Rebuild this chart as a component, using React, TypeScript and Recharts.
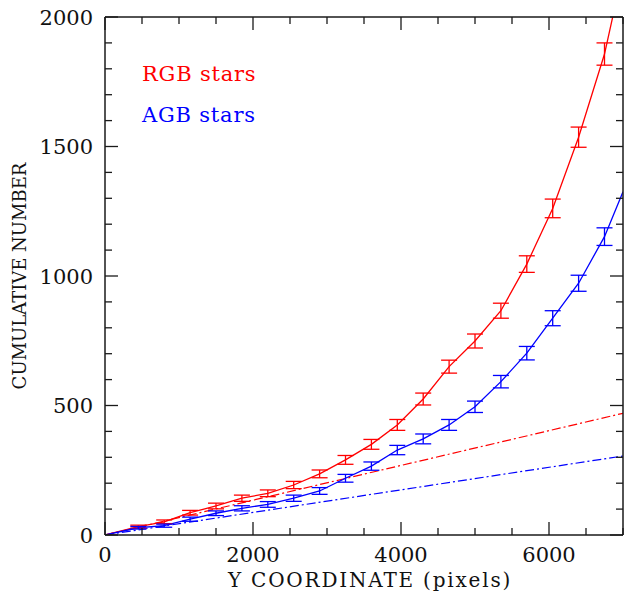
import React from 'react';
import { ComposedChart, Line, Scatter, ErrorBar, XAxis, YAxis, Legend } from 'recharts';

// sample positions along the Y coordinate (pixels)
const xPoints = [450, 800, 1150, 1500, 1850, 2200, 2550, 2900, 3250, 3600, 3950, 4300, 4650, 5000, 5350, 5700, 6050, 6400, 6750];

const rgbCounts = [32, 51, 86, 112, 142, 161, 193, 236, 290, 350, 425, 525, 650, 749, 866, 1046, 1261, 1536, 1857];
const rgbErrors = [6, 7, 9, 11, 12, 13, 14, 15, 17, 19, 21, 23, 25, 27, 29, 32, 36, 39, 43];

const agbCounts = [28, 36, 61, 84, 103, 118, 142, 170, 219, 266, 328, 371, 425, 495, 592, 702, 837, 972, 1152];
const agbErrors = [5, 6, 8, 9, 10, 11, 12, 13, 15, 16, 18, 19, 21, 22, 24, 26, 29, 31, 34];

// curve ends (origin and the right edge of the frame)
const curveStart = { x: 0, y: 0 };
const rgbCurveEnd = { x: 7000, y: 2180 };
const agbCurveEnd = { x: 7000, y: 1325 };

// dash-dot straight lines
const rgbLinear = [{ x: 0, y: 0 }, { x: 7000, y: 470 }];
const agbLinear = [{ x: 0, y: 0 }, { x: 7000, y: 305 }];

const xTicks = [0, 500, 1000, 1500, 2000, 2500, 3000, 3500, 4000, 4500, 5000, 5500, 6000, 6500, 7000];
const yTicks = [0, 100, 200, 300, 400, 500, 600, 700, 800, 900, 1000, 1100, 1200, 1300, 1400, 1500, 1600, 1700, 1800, 1900, 2000];

const rgbPoints = xPoints.map((x, i) => ({ x, y: rgbCounts[i], err: rgbErrors[i] }));
const agbPoints = xPoints.map((x, i) => ({ x, y: agbCounts[i], err: agbErrors[i] }));
const rgbCurve = [curveStart, ...rgbPoints.map(p => ({ x: p.x, y: p.y })), rgbCurveEnd];
const agbCurve = [curveStart, ...agbPoints.map(p => ({ x: p.x, y: p.y })), agbCurveEnd];

const FONT = '"DejaVu Serif", serif';
const AXIS = '#1a1a1a';
const RED = '#ff0000';
const BLUE = '#0000ff';

const BottomTick = (props: any) => {
  const { x, y, payload } = props;
  const major = payload.value % 2000 === 0;
  return (
    <g>
      <line x1={x} y1={y} x2={x} y2={y - (major ? 13 : 7)} stroke={AXIS} strokeWidth={1.3} />
      {major && (
        <text x={x} y={y + 27} textAnchor="middle" fontFamily={FONT} fontSize={21} fill="#111">
          {payload.value}
        </text>
      )}
    </g>
  );
};

const TopTick = (props: any) => {
  const { x, y, payload } = props;
  const major = payload.value % 2000 === 0;
  return <line x1={x} y1={y} x2={x} y2={y + (major ? 13 : 7)} stroke={AXIS} strokeWidth={1.3} />;
};

const LeftTick = (props: any) => {
  const { x, y, payload } = props;
  const major = payload.value % 500 === 0;
  return (
    <g>
      <line x1={x} y1={y} x2={x + (major ? 13 : 7)} y2={y} stroke={AXIS} strokeWidth={1.3} />
      {major && (
        <text x={x - 12} y={y + 7.5} textAnchor="end" fontFamily={FONT} fontSize={21} fill="#111">
          {payload.value}
        </text>
      )}
    </g>
  );
};

const RightTick = (props: any) => {
  const { x, y, payload } = props;
  const major = payload.value % 500 === 0;
  return <line x1={x} y1={y} x2={x - (major ? 13 : 7)} y2={y} stroke={AXIS} strokeWidth={1.3} />;
};

const XTitle = (props: any) => {
  const { viewBox } = props;
  return (
    <text x={viewBox.x + viewBox.width / 2 + 6} y={viewBox.y + 52} textAnchor="middle" fontFamily={FONT} fontSize={20} letterSpacing={1.8} fill="#111">
      Y COORDINATE (pixels)
    </text>
  );
};

const YTitle = (props: any) => {
  const { viewBox } = props;
  const cx = 19;
  const cy = viewBox.y + viewBox.height / 2;
  return (
    <text x={cx} y={cy} transform={`rotate(-90 ${cx} ${cy})`} textAnchor="middle" dominantBaseline="central" fontFamily={FONT} fontSize={18} fill="#111">
      CUMULATIVE NUMBER
    </text>
  );
};

const LegendBox = () => (
  <div style={{ fontFamily: FONT, fontSize: 21, lineHeight: '41px', letterSpacing: '0.8px' }}>
    <div style={{ color: RED }}>RGB stars</div>
    <div style={{ color: BLUE }}>AGB stars</div>
  </div>
);

export default function App() {
  return (
    <div style={{ position: 'absolute', left: 0, top: 0, background: '#fff' }}>
      <ComposedChart width={625} height={596} margin={{ top: 16, right: 1, bottom: 60, left: 104 }}>
        <XAxis
          xAxisId="bottom"
          type="number"
          dataKey="x"
          domain={[0, 7000]}
          ticks={xTicks}
          interval={0}
          allowDataOverflow
          height={1}
          tickSize={0}
          tickMargin={0}
          tick={<BottomTick />}
          stroke={AXIS}
          strokeWidth={1.5}
          label={<XTitle />}
        />
        <XAxis
          xAxisId="top"
          orientation="top"
          type="number"
          dataKey="x"
          domain={[0, 7000]}
          ticks={xTicks}
          interval={0}
          allowDataOverflow
          height={1}
          tickSize={0}
          tickMargin={0}
          tick={<TopTick />}
          stroke={AXIS}
          strokeWidth={1.5}
        />
        <YAxis
          yAxisId="left"
          type="number"
          domain={[0, 2000]}
          ticks={yTicks}
          interval={0}
          allowDataOverflow
          width={1}
          tickSize={0}
          tickMargin={0}
          tick={<LeftTick />}
          stroke={AXIS}
          strokeWidth={1.5}
          label={<YTitle />}
        />
        <YAxis
          yAxisId="right"
          orientation="right"
          type="number"
          domain={[0, 2000]}
          ticks={yTicks}
          interval={0}
          allowDataOverflow
          width={1}
          tickSize={0}
          tickMargin={0}
          tick={<RightTick />}
          stroke={AXIS}
          strokeWidth={1.5}
        />
        <Legend
          layout="vertical"
          align="center"
          verticalAlign="middle"
          wrapperStyle={{ left: 142, top: 54, width: 'auto' }}
          content={<LegendBox />}
        />
        <Line xAxisId="bottom" yAxisId="left" data={rgbLinear} dataKey="y" type="linear" stroke={RED} strokeWidth={1.2} strokeDasharray="9 3 2 3" dot={false} isAnimationActive={false} legendType="none" />
        <Line xAxisId="bottom" yAxisId="left" data={agbLinear} dataKey="y" type="linear" stroke={BLUE} strokeWidth={1.2} strokeDasharray="9 3 2 3" dot={false} isAnimationActive={false} legendType="none" />
        <Line xAxisId="bottom" yAxisId="left" data={rgbCurve} dataKey="y" type="linear" stroke={RED} strokeWidth={1.3} dot={false} isAnimationActive={false} name="RGB stars" />
        <Line xAxisId="bottom" yAxisId="left" data={agbCurve} dataKey="y" type="linear" stroke={BLUE} strokeWidth={1.3} dot={false} isAnimationActive={false} name="AGB stars" />
        <Scatter xAxisId="bottom" yAxisId="left" data={rgbPoints} dataKey="y" shape={() => <g />} isAnimationActive={false} legendType="none">
          <ErrorBar dataKey="err" direction="y" width={8} stroke={RED} strokeWidth={1.3} isAnimationActive={false} />
        </Scatter>
        <Scatter xAxisId="bottom" yAxisId="left" data={agbPoints} dataKey="y" shape={() => <g />} isAnimationActive={false} legendType="none">
          <ErrorBar dataKey="err" direction="y" width={8} stroke={BLUE} strokeWidth={1.3} isAnimationActive={false} />
        </Scatter>
      </ComposedChart>
    </div>
  );
}
